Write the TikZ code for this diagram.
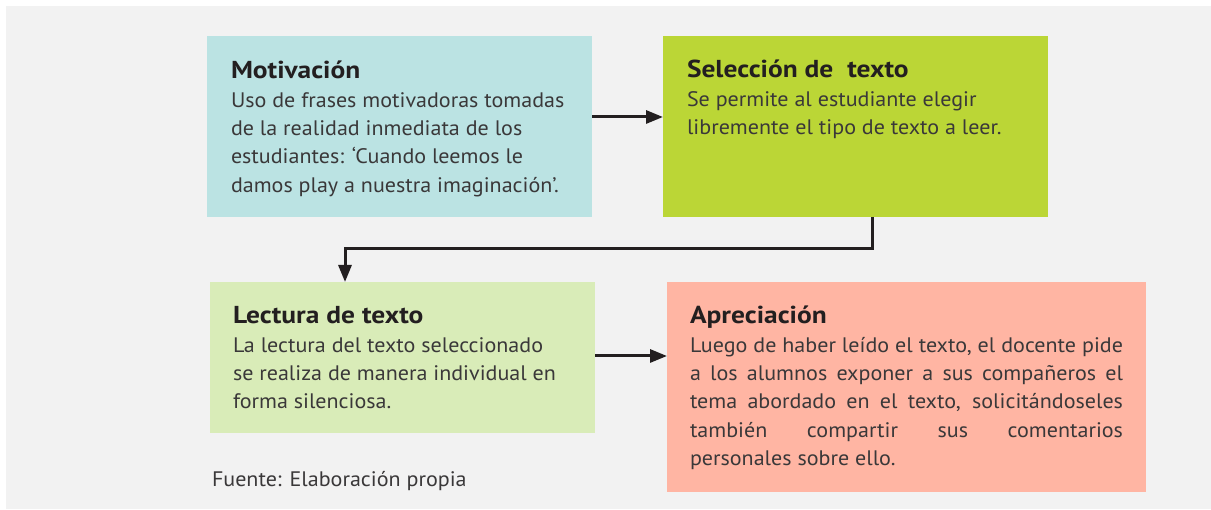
\documentclass[tikz,border=0pt]{standalone}
\usepackage{fontspec}
\setmainfont{PT Sans}
\newfontfamily\titlefont{PT Sans}[FakeStretch=1.12]
\newfontfamily\bodyface{PT Sans}[FakeStretch=1.05]
\usetikzlibrary{arrows.meta}
\definecolor{bggray}{HTML}{F2F2F2}
\definecolor{motc}{HTML}{BBE3E3}
\definecolor{selc}{HTML}{BBD636}
\definecolor{lecc}{HTML}{D9ECB8}
\definecolor{aprc}{HTML}{FFB5A3}
\definecolor{ink}{HTML}{231F20}
\definecolor{bodyink}{HTML}{3A3839}
\newcommand{\boxtitle}[1]{\leavevmode{\titlefont\fontsize{24.5}{28}\selectfont\bfseries\color{ink}#1}\par}
\newcommand{\bodyfont}{\bodyface\fontsize{21}{28.3}\selectfont\color{bodyink}}
\tikzset{
  stage/.style={anchor=north west, inner sep=0pt, outer sep=0pt, draw=none},
  txt/.style={anchor=base west, inner sep=0pt, outer sep=0pt},
  conn/.style={draw=ink, line width=3pt, -{Triangle[length=17pt,width=13pt]}},
}
\begin{document}
\begin{tikzpicture}[x=1pt,y=-1pt]
\useasboundingbox (0,0) rectangle (1211,510);
\fill[bggray] (6,6) rectangle (1211,509);

\node[stage, fill=motc, minimum width=385pt, minimum height=181pt] (mot) at (207,36) {};
\node[stage, fill=selc, minimum width=385pt, minimum height=181pt] (sel) at (663,36) {};
\node[stage, fill=lecc, minimum width=385pt, minimum height=151pt] (lec) at (210,282) {};
\node[stage, fill=aprc, minimum width=479pt, minimum height=210pt] (apr) at (667,282) {};

\node[txt] (motT) at (231,79) {\parbox[t]{350pt}{\boxtitle{Motivación}\bodyfont
Uso de frases motivadoras tomadas\\
de la realidad inmediata de los\\
estudiantes: ‘Cuando leemos le\\
damos play a nuestra imaginación’.}};

\node[txt] (selT) at (687,78) {\parbox[t]{350pt}{\boxtitle{Selección de\ \ texto}\bodyfont
Se permite al estudiante elegir\\
libremente el tipo de texto a leer.}};

\node[txt] (lecT) at (233,324) {\parbox[t]{350pt}{\boxtitle{Lectura de texto}\bodyfont
La lectura del texto seleccionado\\
se realiza de manera individual en\\
forma silenciosa.}};

\node[txt] (aprT) at (690,324) {\parbox[t]{433pt}{\boxtitle{Apreciación}\bodyfont
Luego de haber leído el texto, el docente pide\linebreak
a los alumnos exponer a sus compañeros el\linebreak
tema abordado en el texto, solicitándoseles\linebreak
también compartir sus comentarios\linebreak
personales sobre ello.}};

\node[txt] (src) at (212,487) {\bodyface\fontsize{21}{25}\selectfont\color{bodyink}Fuente: Elaboración propia};

\draw[conn] ([yshift=-81pt]mot.north east) -- ([yshift=-81pt]sel.north west);
\draw[conn] ([xshift=16.5pt]sel.south) -- ++(0,32) -| ([xshift=-57.5pt]lec.north);
\draw[conn] ([yshift=-74pt]lec.north east) -- ([yshift=-74pt]apr.north west);
\end{tikzpicture}
\end{document}
